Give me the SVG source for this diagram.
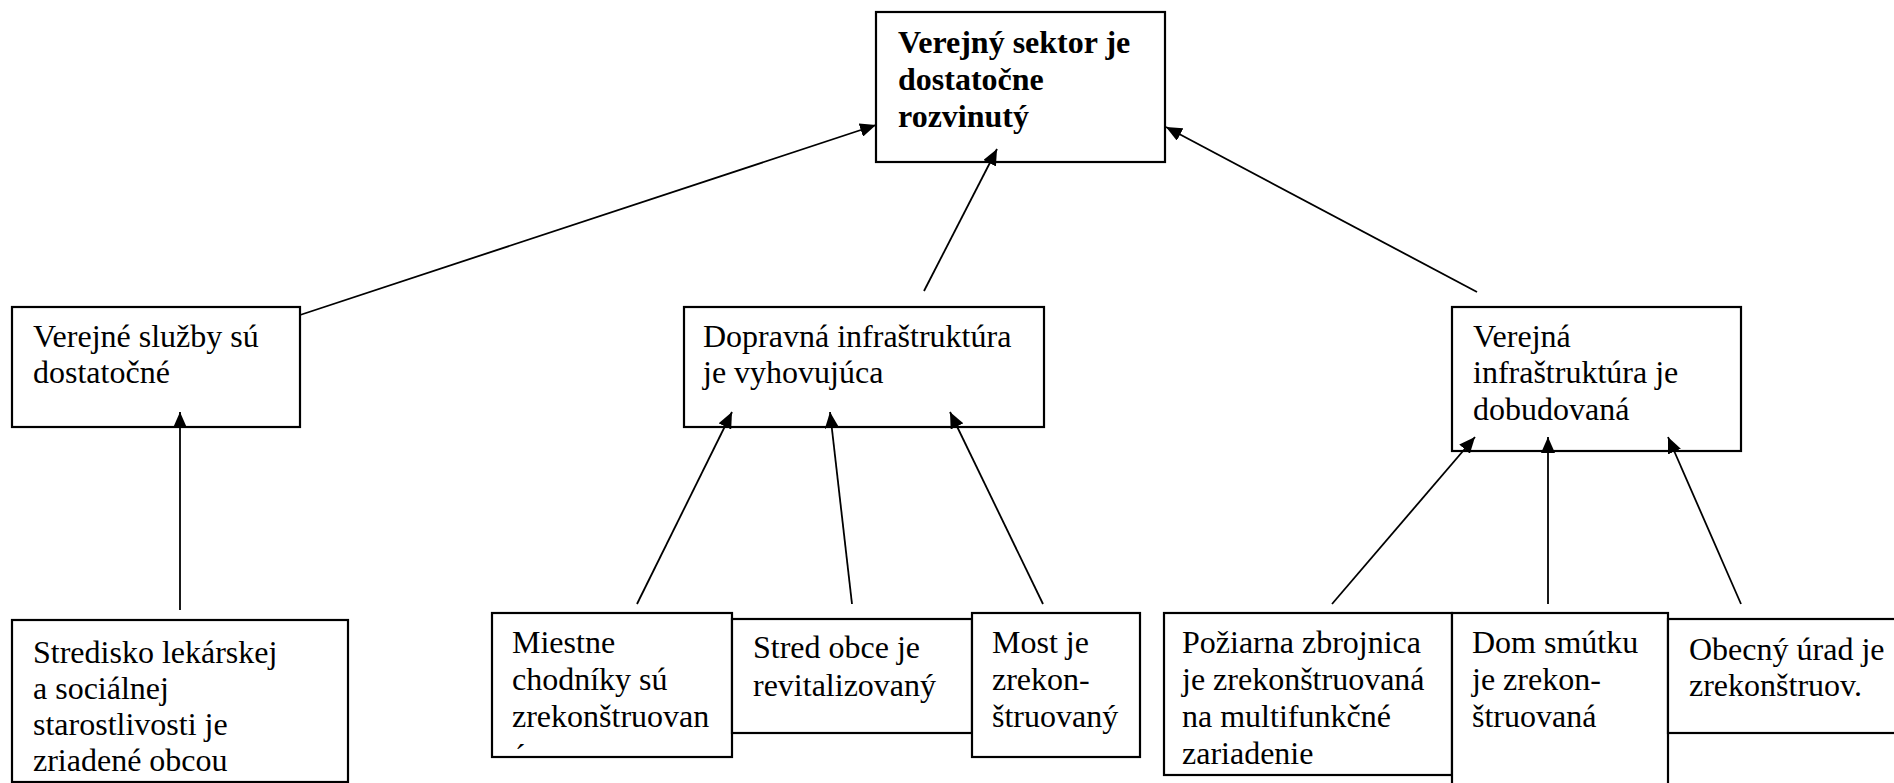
<svg xmlns="http://www.w3.org/2000/svg" width="1894" height="783" viewBox="0 0 1894 783">
<style>
.box{fill:#fff;stroke:#000;stroke-width:2.2}
.t{font-family:"Liberation Serif","Times New Roman",serif;font-size:32px;fill:#000}
.b{font-weight:bold}
.c{stroke:#000;stroke-width:1.8;fill:none;marker-end:url(#ah)}
</style>
<defs>
<marker id="ah" markerUnits="userSpaceOnUse" markerWidth="16" markerHeight="14" refX="16" refY="7" orient="auto">
<path d="M0,0 L16,7 L0,14 Z" fill="#000"/>
</marker>
</defs>
<rect width="1894" height="783" fill="#fff"/>
<g id="n-top">
<rect class="box" x="876" y="12" width="289" height="150"/>
<text class="t b" x="898" y="53">Verejný sektor je</text>
<text class="t b" x="898" y="90">dostatočne</text>
<text class="t b" x="898" y="127">rozvinutý</text>
</g>
<g id="n-sluzby">
<rect class="box" x="12" y="307" width="288" height="120"/>
<text class="t" x="33" y="347">Verejné služby sú</text>
<text class="t" x="33" y="383">dostatočné</text>
</g>
<g id="n-doprava">
<rect class="box" x="684" y="307" width="360" height="120"/>
<text class="t" x="703" y="347">Dopravná infraštruktúra</text>
<text class="t" x="703" y="383">je vyhovujúca</text>
</g>
<g id="n-verejna">
<rect class="box" x="1452" y="307" width="289" height="144"/>
<text class="t" x="1473" y="347">Verejná</text>
<text class="t" x="1473" y="383">infraštruktúra je</text>
<text class="t" x="1473" y="420">dobudovaná</text>
</g>
<g id="n-stredisko">
<rect class="box" x="12" y="620" width="336" height="162"/>
<text class="t" x="33" y="663">Stredisko lekárskej</text>
<text class="t" x="33" y="699">a sociálnej</text>
<text class="t" x="33" y="735">starostlivosti je</text>
<text class="t" x="33" y="771">zriadené obcou</text>
</g>
<g id="n-chodniky">
<rect class="box" x="492" y="613" width="240" height="144"/>
<text class="t" x="512" y="653">Miestne</text>
<text class="t" x="512" y="690">chodníky sú</text>
<text class="t" x="512" y="727">zrekonštruovan</text>
<text class="t" x="515" y="766">´</text>
</g>
<g id="n-stred">
<rect class="box" x="732" y="619" width="240" height="114"/>
<text class="t" x="753" y="658">Stred obce je</text>
<text class="t" x="753" y="696">revitalizovaný</text>
</g>
<g id="n-most">
<rect class="box" x="972" y="613" width="168" height="144"/>
<text class="t" x="992" y="653">Most je</text>
<text class="t" x="992" y="690">zrekon-</text>
<text class="t" x="992" y="727">štruovaný</text>
</g>
<g id="n-poziarna">
<rect class="box" x="1164" y="613" width="288" height="162"/>
<text class="t" x="1182" y="653">Požiarna zbrojnica</text>
<text class="t" x="1182" y="690">je zrekonštruovaná</text>
<text class="t" x="1182" y="727">na multifunkčné</text>
<text class="t" x="1182" y="764">zariadenie</text>
</g>
<g id="n-dom">
<rect class="box" x="1452" y="613" width="216" height="200"/>
<text class="t" x="1472" y="653">Dom smútku</text>
<text class="t" x="1472" y="690">je zrekon-</text>
<text class="t" x="1472" y="727">štruovaná</text>
</g>
<g id="n-urad">
<rect class="box" x="1668" y="619" width="260" height="114"/>
<text class="t" x="1689" y="660">Obecný úrad je</text>
<text class="t" x="1689" y="696">zrekonštruov.</text>
</g>
<g id="connectors">
<line class="c" x1="300" y1="315" x2="876" y2="125"/>
<line class="c" x1="924" y1="291" x2="997" y2="149"/>
<line class="c" x1="1477" y1="292" x2="1166" y2="127"/>
<line class="c" x1="180" y1="610" x2="180" y2="412"/>
<line class="c" x1="637" y1="604" x2="732" y2="412"/>
<line class="c" x1="852" y1="604" x2="830" y2="412"/>
<line class="c" x1="1043" y1="604" x2="950" y2="412"/>
<line class="c" x1="1332" y1="604" x2="1475" y2="437"/>
<line class="c" x1="1548" y1="604" x2="1548" y2="437"/>
<line class="c" x1="1741" y1="604" x2="1668" y2="437"/>
</g>
</svg>
